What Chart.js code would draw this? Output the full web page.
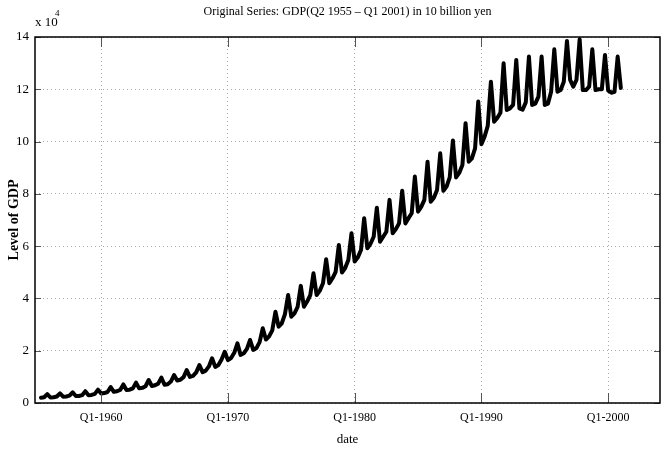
<!DOCTYPE html>
<html>
<head>
<meta charset="utf-8">
<script src="https://cdn.jsdelivr.net/npm/chart.js@4.4.1/dist/chart.umd.min.js"></script>
<style>
  body { margin: 0; background: #fff; }
  #wrap { width: 666px; height: 456px; }
</style>
</head>
<body>
<div id="wrap"><canvas id="gdpChart"></canvas></div>
<script>
// first observation of the series
const startYear = 1955;
const startQuarter = 2;

// GDP level, quarterly, in units of 10^4 (Q2 1955 .. Q1 2001)
const gdp = [
    0.20, 0.22, 0.34,               // 1955 Q2-Q4
    0.21, 0.22, 0.25, 0.37,         // 1956
    0.24, 0.25, 0.28, 0.41,         // 1957
    0.27, 0.27, 0.30, 0.45,         // 1958
    0.30, 0.31, 0.35, 0.51,         // 1959
    0.36, 0.38, 0.42, 0.61,         // 1960
    0.43, 0.45, 0.50, 0.71,         // 1961
    0.50, 0.51, 0.56, 0.78,         // 1962
    0.56, 0.58, 0.64, 0.88,         // 1963
    0.65, 0.68, 0.74, 0.97,         // 1964
    0.70, 0.72, 0.82, 1.07,         // 1965
    0.86, 0.89, 0.99, 1.26,         // 1966
    1.00, 1.04, 1.17, 1.45,         // 1967
    1.18, 1.24, 1.40, 1.71,         // 1968
    1.38, 1.45, 1.66, 1.96,         // 1969
    1.64, 1.72, 1.92, 2.28,         // 1970
    1.84, 1.90, 2.07, 2.41,         // 1971
    2.03, 2.10, 2.33, 2.86,         // 1972
    2.43, 2.55, 2.78, 3.49,         // 1973
    2.92, 3.05, 3.40, 4.13,         // 1974
    3.30, 3.43, 3.68, 4.48,         // 1975
    3.68, 3.88, 4.13, 4.96,         // 1976
    4.13, 4.30, 4.58, 5.50,         // 1977
    4.58, 4.77, 5.02, 6.04,         // 1978
    4.99, 5.16, 5.47, 6.49,         // 1979
    5.41, 5.57, 5.85, 7.07,         // 1980
    5.92, 6.09, 6.36, 7.47,         // 1981
    6.17, 6.36, 6.55, 7.77,         // 1982
    6.49, 6.65, 6.87, 8.12,         // 1983
    6.87, 7.07, 7.26, 8.66,         // 1984
    7.32, 7.50, 7.77, 9.23,         // 1985
    7.70, 7.85, 8.15, 9.55,         // 1986
    8.12, 8.28, 8.63, 10.04,        // 1987
    8.63, 8.80, 9.10, 10.70,        // 1988
    9.23, 9.36, 9.74, 11.53,        // 1989
    9.90, 10.19, 10.60, 12.29,      // 1990
    10.76, 10.90, 11.10, 13.00,     // 1991
    11.21, 11.27, 11.40, 13.12,     // 1992
    11.27, 11.22, 11.50, 13.25,     // 1993
    11.40, 11.45, 11.72, 13.25,     // 1994
    11.40, 11.45, 11.91, 13.53,     // 1995
    11.91, 11.97, 12.29, 13.85,     // 1996
    12.36, 12.10, 12.36, 13.91,     // 1997
    11.97, 11.97, 12.10, 13.53,     // 1998
    11.97, 12.00, 12.00, 13.31,     // 1999
    11.95, 11.87, 11.90, 13.25,     // 2000
    12.05                           // 2001 Q1
];

// tick labels
const xTickYears = [1960, 1970, 1980, 1990, 2000];
const yTicks = [0, 2, 4, 6, 8, 10, 12, 14];

const chartTitle = 'Original Series: GDP(Q2 1955 \u2013 Q1 2001) in 10 billion yen';
const xTitle = 'date';
const yTitle = 'Level of GDP';

const serif = '"Liberation Serif", "DejaVu Serif", serif';

// quarter -> decimal year
const points = gdp.map((v, i) => {
    const q = startQuarter - 1 + i;
    return { x: startYear + Math.floor(q / 4) + (q % 4) / 4, y: v };
});

// MATLAB-like frame: box, inward ticks, titles, exponent
const framePlugin = {
    id: 'frame',
    afterDraw(chart) {
        const ctx = chart.ctx;
        const a = chart.chartArea;
        const xs = chart.scales.x;
        const ys = chart.scales.y;
        ctx.save();

        ctx.strokeStyle = '#555';
        ctx.lineWidth = 1;
        ctx.beginPath();
        xTickYears.forEach(v => {
            const px = Math.round(xs.getPixelForValue(v)) + 0.5;
            ctx.moveTo(px, a.bottom); ctx.lineTo(px, a.bottom - 10);
            ctx.moveTo(px, a.top); ctx.lineTo(px, a.top + 10);
        });
        yTicks.forEach(v => {
            const py = Math.round(ys.getPixelForValue(v)) + 0.5;
            ctx.moveTo(a.left, py); ctx.lineTo(a.left + 6, py);
            ctx.moveTo(a.right, py); ctx.lineTo(a.right - 6, py);
        });
        ctx.stroke();

        ctx.strokeStyle = '#000';
        ctx.lineWidth = 1.5;
        ctx.strokeRect(a.left, a.top, a.right - a.left, a.bottom - a.top);

        ctx.fillStyle = '#000';
        ctx.textAlign = 'center';
        ctx.textBaseline = 'middle';
        ctx.font = '12px ' + serif;
        ctx.fillText(chartTitle, (a.left + a.right) / 2, 12);

        ctx.font = '13px ' + serif;
        ctx.fillText(xTitle, (a.left + a.right) / 2, 440);

        ctx.save();
        ctx.translate(14, (a.top + a.bottom) / 2);
        ctx.rotate(-Math.PI / 2);
        ctx.font = 'bold 14px ' + serif;
        ctx.fillText(yTitle, 0, 0);
        ctx.restore();

        ctx.textAlign = 'left';
        ctx.font = '13px ' + serif;
        ctx.fillText('x 10', a.left, 23);
        ctx.font = '9px ' + serif;
        ctx.fillText('4', a.left + 20, 14);

        ctx.restore();
    }
};

new Chart(document.getElementById('gdpChart'), {
    type: 'line',
    data: {
        datasets: [{
            data: points,
            borderColor: '#000',
            borderWidth: 4,
            borderJoinStyle: 'round',
            borderCapStyle: 'round',
            pointRadius: 0,
            tension: 0,
            fill: false
        }]
    },
    options: {
        responsive: true,
        maintainAspectRatio: false,
        animation: false,
        layout: { padding: { top: 37, right: 6, left: 0, bottom: 0 } },
        plugins: {
            legend: { display: false },
            tooltip: { enabled: false },
            title: { display: false }
        },
        scales: {
            x: {
                type: 'linear',
                min: 1954.78,
                max: 2004.09,
                afterBuildTicks: scale => { scale.ticks = xTickYears.map(v => ({ value: v })); },
                afterFit: scale => { scale.height = 53; },
                ticks: {
                    callback: v => 'Q1-' + v,
                    color: '#000',
                    font: { family: serif, size: 12 },
                    padding: 8,
                    maxRotation: 0
                },
                grid: { color: '#aaa', lineWidth: 1, drawTicks: false },
                border: { display: false, dash: [1, 3] }
            },
            y: {
                min: 0,
                max: 14,
                afterBuildTicks: scale => { scale.ticks = yTicks.map(v => ({ value: v })); },
                afterFit: scale => { scale.width = 35; },
                ticks: {
                    color: '#000',
                    font: { family: serif, size: 13 },
                    padding: 6
                },
                grid: { color: '#aaa', lineWidth: 1, drawTicks: false },
                border: { display: false, dash: [1, 3] }
            }
        }
    },
    plugins: [framePlugin]
});
</script>
</body>
</html>
